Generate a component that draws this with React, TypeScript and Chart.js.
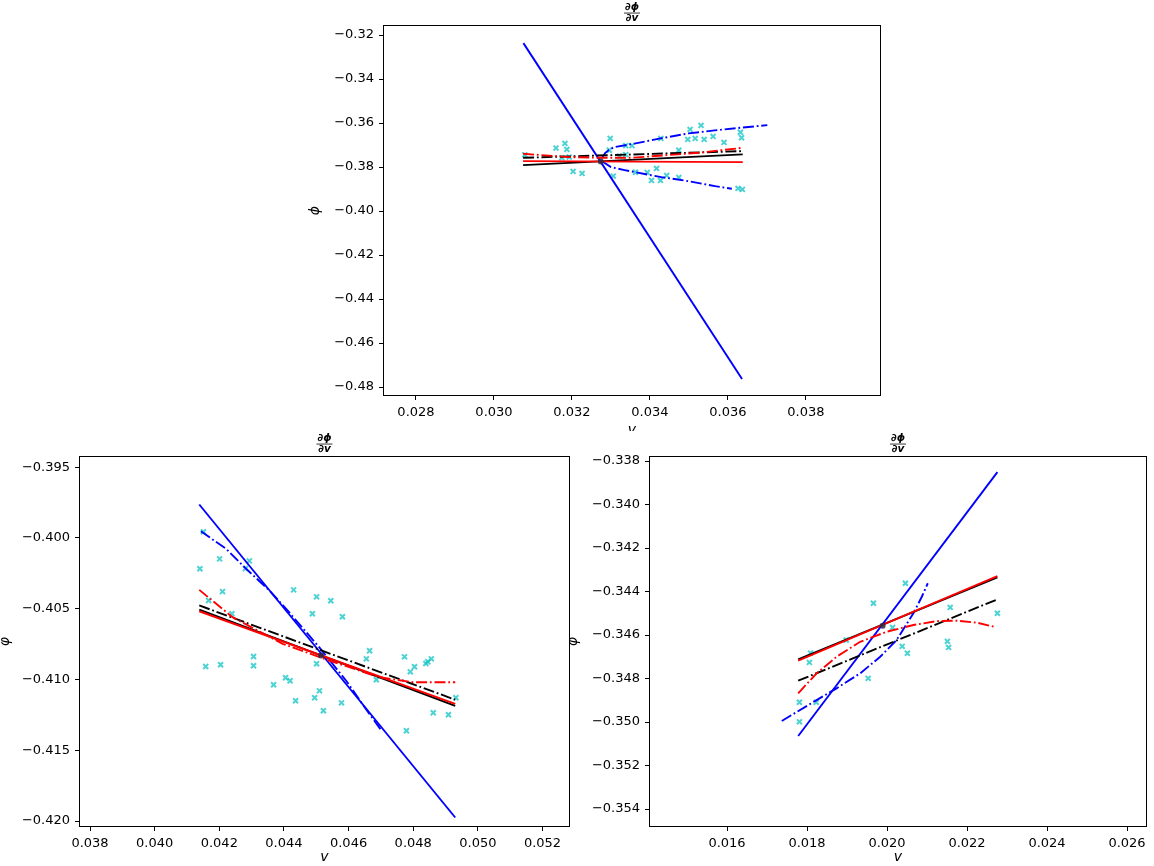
import React, { useEffect, useRef } from 'react';
import { Chart, registerables } from 'chart.js';

Chart.register(...registerables);

const FONT = "'DejaVu Sans', 'Liberation Sans', sans-serif";

// ---------- TOP PANEL ----------
const topScatterX = [0.03079, 0.03159, 0.03182, 0.03187, 0.03193, 0.03174, 0.03203, 0.03226, 0.03298, 0.03296, 0.03306, 0.03322, 0.03338, 0.03354, 0.03338, 0.03363, 0.03393, 0.03417, 0.03404, 0.03427, 0.03443, 0.03474, 0.03428, 0.03474, 0.03503, 0.03531, 0.03497, 0.03516, 0.03539, 0.03562, 0.0359, 0.03632, 0.03635, 0.03626, 0.03637];
const topScatterY = [-0.37441, -0.37136, -0.36923, -0.37195, -0.37545, -0.37577, -0.38195, -0.38286, -0.36695, -0.37236, -0.38409, -0.375, -0.37023, -0.37023, -0.37432, -0.38236, -0.38241, -0.38059, -0.38605, -0.38605, -0.38377, -0.38468, -0.36695, -0.37236, -0.36286, -0.36105, -0.36741, -0.36695, -0.36741, -0.36605, -0.36877, -0.36418, -0.36668, -0.38968, -0.39014];
const topBlueSolidX = [0.030755, 0.036362];
const topBlueSolidY = [-0.32364, -0.47636];
const topBlueUpperX = [0.03277, 0.03285, 0.03293, 0.03308, 0.0336, 0.03427, 0.03499, 0.03566, 0.03636, 0.03701];
const topBlueUpperY = [-0.37591, -0.37364, -0.37241, -0.37091, -0.36932, -0.36695, -0.36468, -0.36332, -0.36205, -0.36091];
const topBlueLowerX = [0.03277, 0.03283, 0.033, 0.03335, 0.03361, 0.03429, 0.03498, 0.03567, 0.0361];
const topBlueLowerY = [-0.37727, -0.37805, -0.38, -0.38136, -0.38227, -0.38455, -0.38636, -0.38864, -0.38986];
const topBlackSolidX = [0.030747, 0.03638];
const topBlackSolidY = [-0.37909, -0.37423];
const topBlackDashX = [0.030747, 0.03638];
const topBlackDashY = [-0.37577, -0.37273];
const topRedSolidX = [0.030747, 0.03638];
const topRedSolidY = [-0.37727, -0.37773];
const topRedDashX = [0.030747, 0.03193, 0.03274, 0.03352, 0.03524, 0.03638];
const topRedDashY = [-0.37395, -0.37545, -0.37577, -0.37577, -0.3735, -0.37123];
const topPivot = [0.03274, -0.3774];
const topXTicks = [0.028, 0.03, 0.032, 0.034, 0.036, 0.038];
const topYTicks = [-0.48, -0.46, -0.44, -0.42, -0.4, -0.38, -0.36, -0.34, -0.32];

// ---------- BOTTOM LEFT PANEL ----------
const blScatterX = [0.04151, 0.0414, 0.04201, 0.04293, 0.04281, 0.0421, 0.04167, 0.04239, 0.0443, 0.04501, 0.04545, 0.04488, 0.04581, 0.04306, 0.04306, 0.04158, 0.04204, 0.04368, 0.04405, 0.04419, 0.04436, 0.0451, 0.04495, 0.04522, 0.04578, 0.04501, 0.04665, 0.04655, 0.04686, 0.04773, 0.04804, 0.04791, 0.04839, 0.04845, 0.04856, 0.04932, 0.04862, 0.04909, 0.04779];
const blScatterY = [-0.39957, -0.40218, -0.40148, -0.40162, -0.40216, -0.40379, -0.40442, -0.40536, -0.40367, -0.40416, -0.40444, -0.40536, -0.40557, -0.40838, -0.40903, -0.40908, -0.40896, -0.41037, -0.40988, -0.41009, -0.4115, -0.4108, -0.41129, -0.41221, -0.41165, -0.40889, -0.40797, -0.40854, -0.41002, -0.4084, -0.4091, -0.40946, -0.40887, -0.40875, -0.40854, -0.41129, -0.41235, -0.41249, -0.41362];
const blBlueSolidX = [0.04138, 0.0493];
const blBlueSolidY = [-0.39764, -0.41975];
const blBlueDashX = [0.04143, 0.04221, 0.04283, 0.04355, 0.04416, 0.04509, 0.04592, 0.04653, 0.047];
const blBlueDashY = [-0.39953, -0.40077, -0.40218, -0.40371, -0.40525, -0.40772, -0.41007, -0.41207, -0.41355];
const blBlackSolidX = [0.04138, 0.0493];
const blBlackSolidY = [-0.40506, -0.41187];
const blBlackDashX = [0.04138, 0.0493];
const blBlackDashY = [-0.40477, -0.41143];
const blRedSolidX = [0.04138, 0.0493];
const blRedSolidY = [-0.40518, -0.41172];
const blRedDashX = [0.04138, 0.04241, 0.04396, 0.0454, 0.04695, 0.04798, 0.0493];
const blRedDashY = [-0.40367, -0.4056, -0.40748, -0.40866, -0.40984, -0.41019, -0.41019];
const blPivot = [0.04515, -0.4083];
const blXTicks = [0.038, 0.04, 0.042, 0.044, 0.046, 0.048, 0.05, 0.052];
const blYTicks = [-0.42, -0.415, -0.41, -0.405, -0.4, -0.395];

// ---------- BOTTOM RIGHT PANEL ----------
const brScatterX = [0.02046, 0.01966, 0.02014, 0.01898, 0.01809, 0.01806, 0.02038, 0.02051, 0.01953, 0.01781, 0.01823, 0.01781, 0.02158, 0.02151, 0.02154, 0.02276];
const brScatterY = [-0.34362, -0.34454, -0.34565, -0.34623, -0.34683, -0.34726, -0.34652, -0.34684, -0.34799, -0.34909, -0.34909, -0.34999, -0.34473, -0.34629, -0.34657, -0.345];
const brBlueSolidX = [0.01778, 0.02276];
const brBlueSolidY = [-0.35064, -0.33851];
const brBlueDashX = [0.01737, 0.01824, 0.01874, 0.01933, 0.01983, 0.02024, 0.02066, 0.02087, 0.02102];
const brBlueDashY = [-0.34995, -0.34899, -0.34845, -0.34776, -0.347, -0.34623, -0.345, -0.34424, -0.34362];
const brBlackSolidX = [0.01778, 0.02276];
const brBlackSolidY = [-0.34712, -0.34335];
const brBlackDashX = [0.01778, 0.02276];
const brBlackDashY = [-0.3481, -0.34436];
const brRedSolidX = [0.01778, 0.02276];
const brRedSolidY = [-0.34718, -0.34329];
const brRedDashX = [0.01778, 0.01824, 0.01874, 0.01933, 0.01999, 0.02066, 0.02124, 0.02174, 0.02224, 0.02268];
const brRedDashY = [-0.34868, -0.34776, -0.347, -0.34631, -0.34585, -0.34554, -0.34536, -0.34534, -0.34543, -0.34562];
const brPivot = [0.01989, -0.34557];
const brXTicks = [0.016, 0.018, 0.02, 0.022, 0.024, 0.026];
const brYTicks = [-0.354, -0.352, -0.35, -0.348, -0.346, -0.344, -0.342, -0.34, -0.338];

const TITLE_LINES = ['∂ϕ', '∂v'];

type LineSpec = { x: number[]; y: number[]; color: string; dash: boolean };

const LINE_W = 1.9;
const DASHDOT = [11, 2.8, 1.8, 2.8];

function pts(xs: number[], ys: number[]) {
  return xs.map((x, i) => ({ x, y: ys[i] }));
}

function fmt(v: number, dec: number) {
  return Number(v).toFixed(dec).replace('-', '\u2212');
}

const framePlugin = {
  id: 'frame',
  afterDraw(chart: any) {
    const { ctx, chartArea } = chart;
    const l = Math.round(chartArea.left) - 0.5;
    const t = Math.round(chartArea.top) - 0.5;
    const r = Math.round(chartArea.right) + 0.5;
    const b = Math.round(chartArea.bottom) + 0.5;
    ctx.save();
    ctx.strokeStyle = '#000';
    ctx.lineWidth = 1;
    ctx.strokeRect(l, t, r - l, b - t);
    ctx.restore();
  },
};

const fractionPlugin = {
  id: 'fraction',
  afterDraw(chart: any) {
    const tb = chart.titleBlock;
    if (!tb) return;
    const cx = (tb.left + tb.right) / 2;
    const y = tb.top + 11.55 + 0.5;
    const { ctx } = chart;
    ctx.save();
    ctx.strokeStyle = '#000';
    ctx.lineWidth = 0.8;
    ctx.beginPath();
    ctx.moveTo(cx - 8, y);
    ctx.lineTo(cx + 8, y);
    ctx.stroke();
    ctx.restore();
  },
};

type PanelSpec = {
  scatterX: number[];
  scatterY: number[];
  lines: LineSpec[];
  pivot: number[];
  xMin: number;
  xMax: number;
  yMin: number;
  yMax: number;
  xTicks: number[];
  yTicks: number[];
  xDec: number;
  yDec: number;
  yTitle: string;
  yTitleLH: number;
  padding: { left: number; right: number; top: number; bottom: number };
  yWidth: number;
  xHeight: number;
};

function buildConfig(p: PanelSpec): any {
  const datasets: any[] = [];
  datasets.push({
    data: pts(p.scatterX, p.scatterY),
    showLine: false,
    pointStyle: 'crossRot',
    pointRadius: 3.5,
    pointBorderWidth: 2,
    borderColor: 'rgba(0,191,191,0.7)',
    backgroundColor: 'rgba(0,191,191,0.7)',
    order: 20,
  });
  p.lines.forEach((ln, i) => {
    datasets.push({
      data: pts(ln.x, ln.y),
      showLine: true,
      borderColor: ln.color,
      borderWidth: LINE_W,
      borderDash: ln.dash ? DASHDOT : [],
      pointRadius: 0,
      fill: false,
      tension: 0,
      order: 10 - i,
    });
  });
  datasets.push({
    data: [{ x: p.pivot[0], y: p.pivot[1] }],
    showLine: false,
    pointStyle: 'circle',
    pointRadius: 3,
    pointBorderWidth: 0,
    backgroundColor: 'rgba(40,40,70,0.85)',
    borderColor: 'rgba(40,40,70,0.85)',
    order: 0,
  });

  const tickFont = { family: FONT, size: 13 };
  const grid = {
    display: true,
    drawOnChartArea: false,
    drawTicks: true,
    tickLength: 5,
    color: '#000',
    tickColor: '#000',
    lineWidth: 1,
  };

  return {
    type: 'scatter',
    data: { datasets },
    options: {
      responsive: false,
      animation: false,
      devicePixelRatio: 1,
      events: [],
      layout: { padding: p.padding },
      plugins: {
        legend: { display: false },
        tooltip: { enabled: false },
        title: {
          display: true,
          text: TITLE_LINES,
          fullSize: false,
          color: '#000',
          font: { family: FONT, size: 10.5, style: 'italic', lineHeight: 1.1 },
          padding: { top: 0, bottom: 2 },
        },
      },
      scales: {
        x: {
          type: 'linear',
          position: 'bottom',
          min: p.xMin,
          max: p.xMax,
          afterBuildTicks: (s: any) => {
            s.ticks = p.xTicks.map((v) => ({ value: v }));
          },
          afterFit: (s: any) => {
            s.height = p.xHeight;
          },
          ticks: {
            callback: (v: any) => fmt(v, p.xDec),
            font: tickFont,
            color: '#000',
            padding: 5,
            maxRotation: 0,
            autoSkip: false,
          },
          grid,
          border: { display: false },
          title: {
            display: true,
            text: 'v',
            color: '#000',
            font: { family: FONT, size: 14, style: 'italic', lineHeight: 1.2 },
            padding: 0,
          },
        },
        y: {
          type: 'linear',
          position: 'left',
          min: p.yMin,
          max: p.yMax,
          afterBuildTicks: (s: any) => {
            s.ticks = p.yTicks.map((v) => ({ value: v }));
          },
          afterFit: (s: any) => {
            s.width = p.yWidth;
          },
          ticks: {
            callback: (v: any) => fmt(v, p.yDec),
            font: tickFont,
            color: '#000',
            padding: 5,
            autoSkip: false,
          },
          grid,
          border: { display: false },
          title: {
            display: true,
            text: p.yTitle,
            color: '#000',
            font: { family: FONT, size: 14, style: 'italic', lineHeight: p.yTitleLH },
            padding: 0,
          },
        },
      },
    },
    plugins: [framePlugin, fractionPlugin],
  };
}

const topSpec: PanelSpec = {
  scatterX: topScatterX,
  scatterY: topScatterY,
  lines: [
    { x: topBlueSolidX, y: topBlueSolidY, color: '#0000ff', dash: false },
    { x: topBlueUpperX, y: topBlueUpperY, color: '#0000ff', dash: true },
    { x: topBlueLowerX, y: topBlueLowerY, color: '#0000ff', dash: true },
    { x: topBlackSolidX, y: topBlackSolidY, color: '#000000', dash: false },
    { x: topBlackDashX, y: topBlackDashY, color: '#000000', dash: true },
    { x: topRedSolidX, y: topRedSolidY, color: '#ff0000', dash: false },
    { x: topRedDashX, y: topRedDashY, color: '#ff0000', dash: true },
  ],
  pivot: topPivot,
  xMin: 0.02718,
  xMax: 0.0399,
  yMin: -0.4836,
  yMax: -0.3159,
  xTicks: topXTicks,
  yTicks: topYTicks,
  xDec: 3,
  yDec: 2,
  yTitle: 'ϕ',
  yTitleLH: 1.2,
  padding: { left: 306.6, right: 274, top: 1, bottom: 0 },
  yWidth: 77.4,
  xHeight: 44,
};

const blSpec: PanelSpec = {
  scatterX: blScatterX,
  scatterY: blScatterY,
  lines: [
    { x: blBlueSolidX, y: blBlueSolidY, color: '#0000ff', dash: false },
    { x: blBlueDashX, y: blBlueDashY, color: '#0000ff', dash: true },
    { x: blBlackSolidX, y: blBlackSolidY, color: '#000000', dash: false },
    { x: blBlackDashX, y: blBlackDashY, color: '#000000', dash: true },
    { x: blRedSolidX, y: blRedSolidY, color: '#ff0000', dash: false },
    { x: blRedDashX, y: blRedDashY, color: '#ff0000', dash: true },
  ],
  pivot: blPivot,
  xMin: 0.03769,
  xMax: 0.05282,
  yMin: -0.42035,
  yMax: -0.39429,
  xTicks: blXTicks,
  yTicks: blYTicks,
  xDec: 3,
  yDec: 3,
  yTitle: 'φ',
  yTitleLH: 0.8,
  padding: { left: 0, right: 585, top: 432, bottom: 0 },
  yWidth: 80,
  xHeight: 40,
};

const brSpec: PanelSpec = {
  scatterX: brScatterX,
  scatterY: brScatterY,
  lines: [
    { x: brBlueSolidX, y: brBlueSolidY, color: '#0000ff', dash: false },
    { x: brBlueDashX, y: brBlueDashY, color: '#0000ff', dash: true },
    { x: brBlackSolidX, y: brBlackSolidY, color: '#000000', dash: false },
    { x: brBlackDashX, y: brBlackDashY, color: '#000000', dash: true },
    { x: brRedSolidX, y: brRedSolidY, color: '#ff0000', dash: false },
    { x: brRedDashX, y: brRedDashY, color: '#ff0000', dash: true },
  ],
  pivot: brPivot,
  xMin: 0.014075,
  xMax: 0.026475,
  yMin: -0.35478,
  yMax: -0.33782,
  xTicks: brXTicks,
  yTicks: brYTicks,
  xDec: 3,
  yDec: 3,
  yTitle: 'φ',
  yTitleLH: 1.2,
  padding: { left: 564.6, right: 8, top: 432, bottom: 0 },
  yWidth: 85.4,
  xHeight: 40,
};

function Panel({ spec, width, height }: { spec: PanelSpec; width: number; height: number }) {
  const ref = useRef<HTMLCanvasElement | null>(null);
  useEffect(() => {
    if (!ref.current) return;
    const chart = new Chart(ref.current, buildConfig(spec));
    return () => chart.destroy();
  }, [spec]);
  return (
    <canvas
      ref={ref}
      width={width}
      height={height}
      style={{ position: 'absolute', left: 0, top: 0, width, height }}
    />
  );
}

export default function App() {
  return (
    <div
      style={{
        position: 'fixed',
        left: 0,
        top: 0,
        width: 1154,
        height: 866,
        background: '#fff',
        overflow: 'hidden',
      }}
    >
      <div style={{ position: 'absolute', left: 0, top: 0, width: 1154, height: 431, overflow: 'hidden' }}>
        <Panel spec={topSpec} width={1154} height={439} />
      </div>
      <Panel spec={blSpec} width={1154} height={866} />
      <Panel spec={brSpec} width={1154} height={866} />
    </div>
  );
}
